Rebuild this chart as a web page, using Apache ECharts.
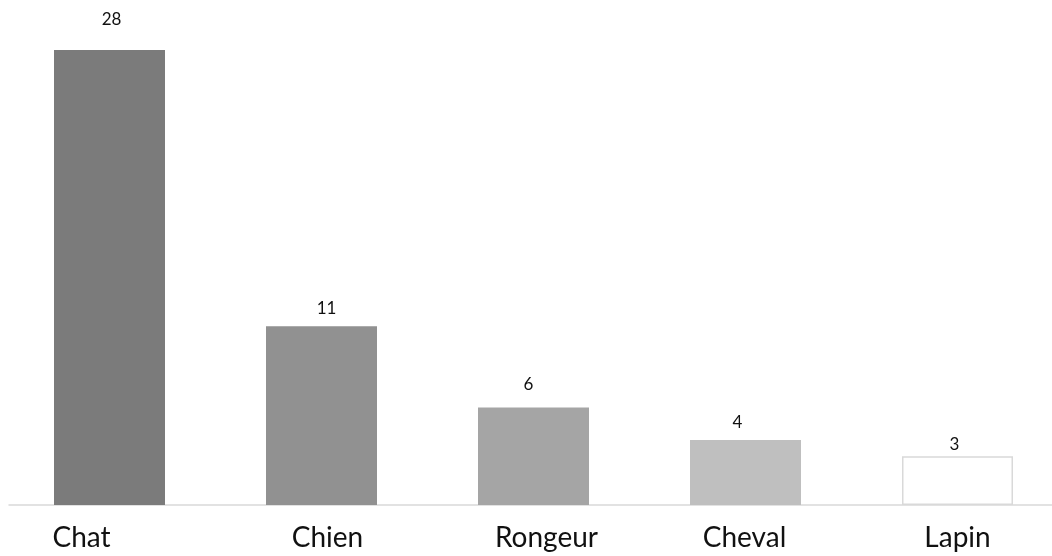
<!DOCTYPE html>
<html>
<head>
<meta charset="utf-8">
<style>
  html, body { margin: 0; padding: 0; background: #ffffff; }
  #chart { width: 1052px; height: 556px; }
</style>
<script src="https://cdn.jsdelivr.net/npm/echarts@6/dist/echarts.min.js"></script>
</head>
<body>
<div id="chart"></div>
<script>
// Animals and their counts
const categories = ['Chat', 'Chien', 'Rongeur', 'Cheval', 'Lapin'];
const counts = [28, 11, 6, 4, 3];

// Per-bar fill shades (last bar is outlined only)
const barFills = ['#7b7b7b', '#919191', '#a5a5a5', '#bfbfbf', '#ffffff'];
const barBorders = ['#7b7b7b', '#919191', '#a5a5a5', '#bfbfbf', '#d9d9d9'];
// Value label nudges [dx, dy] in px
const valueLabelNudge = [[2, -22], [5, -9], [-5, -14], [-8, -9], [-3, -3]];
// Category label horizontal nudges in px
const catLabelNudge = [-28, 6, 13, -1, 0];

const rich = {};
catLabelNudge.forEach((dx, i) => {
  rich['c' + i] = {
    fontFamily: 'Lato',
    fontSize: 28,
    color: '#111111',
    padding: dx >= 0 ? [0, 0, 0, 2 * dx] : [0, -2 * dx, 0, 0]
  };
});

const seriesData = counts.map((v, i) => ({
  value: v,
  itemStyle: {
    color: barFills[i],
    borderColor: barBorders[i],
    borderWidth: i === counts.length - 1 ? 1.5 : 0
  },
  label: { offset: valueLabelNudge[i] }
}));

const chart = echarts.init(document.getElementById('chart'), null, { renderer: 'canvas' });
chart.setOption({
  animation: false,
  backgroundColor: '#ffffff',
  grid: [
    // plot area: categories sit on ticks, first and last at the edges
    { left: 109.5, right: 94.5, top: 17.5, bottom: 51, containLabel: false },
    // full-width baseline
    { left: 9, right: 0, top: 17.5, bottom: 51, containLabel: false }
  ],
  xAxis: [{
    type: 'category',
    gridIndex: 0,
    data: categories,
    boundaryGap: false,
    axisLine: { show: false },
    axisTick: { show: false },
    axisLabel: {
      margin: 19,
      interval: 0,
      formatter: (value, idx) => '{c' + idx + '|' + value + '}',
      rich: rich
    },
    splitLine: { show: false }
  }, {
    type: 'value',
    gridIndex: 1,
    min: 0,
    max: 1,
    axisLine: { show: true, lineStyle: { color: '#d9d9d9', width: 1.5 } },
    axisTick: { show: false },
    axisLabel: { show: false },
    splitLine: { show: false }
  }],
  yAxis: [{
    type: 'value',
    gridIndex: 0,
    min: 0,
    max: 30,
    show: false,
    splitLine: { show: false }
  }, {
    type: 'value',
    gridIndex: 1,
    min: 0,
    max: 1,
    show: false,
    splitLine: { show: false }
  }],
  series: [{
    type: 'bar',
    xAxisIndex: 0,
    yAxisIndex: 0,
    data: seriesData,
    barWidth: 111,
    clip: false,
    label: {
      show: true,
      position: 'top',
      distance: 0,
      fontFamily: 'Lato',
      fontSize: 17,
      color: '#111111'
    }
  }]
});
</script>
</body>
</html>
